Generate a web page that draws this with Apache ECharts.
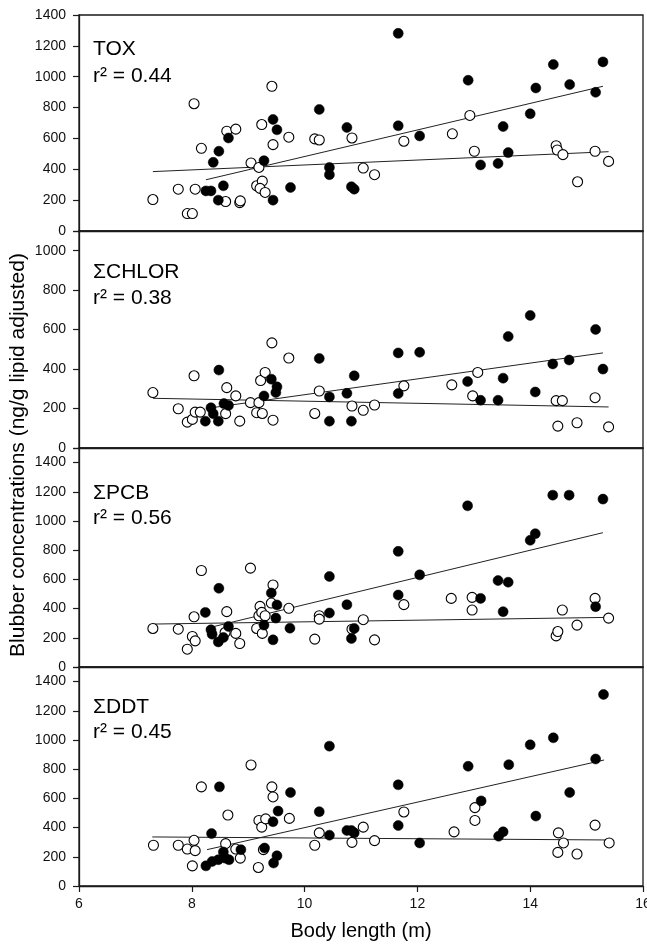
<!DOCTYPE html>
<html>
<head>
<meta charset="utf-8">
<script src="https://cdn.jsdelivr.net/npm/echarts@6/dist/echarts.min.js"></script>
<style>
  html, body { margin: 0; padding: 0; background: #fff; }
  #chart { width: 647px; height: 944px; }
</style>
</head>
<body>
<div id="chart"></div>
<script>
// ---- Data (body length m, concentration ng/g lipid adjusted) ----
const panelNames = ['TOX', '\u03A3CHLOR', '\u03A3PCB', '\u03A3DDT'];
const r2Labels = ['0.44', '0.38', '0.56', '0.45'];
const xTicks = [6, 8, 10, 12, 14, 16];

const toxOpen = [[7.31,204],[7.76,271],[8.04,825],[8.17,536],[7.92,113],[8.01,113],[8.06,271],[8.60,191],[8.62,647],[8.78,660],[8.85,184],[8.86,195],[9.05,441],[9.19,412],[9.15,293],[9.24,690],[9.25,323],[9.21,276],[9.30,250],[9.42,938],[9.44,560],[9.72,608],[10.18,597],[10.26,590],[10.84,603],[11.04,408],[11.24,365],[11.76,582],[12.62,630],[12.93,749],[13.01,517],[14.46,553],[14.48,525],[14.58,495],[14.84,319],[15.15,517],[15.39,451]];
const toxFilled = [[8.25,260],[8.34,260],[8.38,445],[8.48,517],[8.47,200],[8.56,293],[8.65,603],[9.28,456],[9.44,723],[9.51,656],[9.44,200],[9.75,282],[10.26,788],[10.44,412],[10.44,365],[10.75,671],[10.83,287],[10.88,271],[11.66,1281],[11.66,682],[12.04,616],[12.90,977],[13.12,428],[13.43,438],[13.52,677],[13.61,508],[14.00,760],[14.10,927],[14.41,1079],[14.70,949],[15.16,899],[15.29,1096]];
const toxTrendFilled = [[8.25,332],[15.29,938]];
const toxTrendOpen = [[7.31,385],[15.39,514]];

const chlorOpen = [[7.31,281],[7.76,199],[7.92,131],[8.01,145],[8.04,366],[8.06,182],[8.15,182],[8.62,306],[8.78,264],[8.60,174],[8.85,136],[9.04,230],[9.15,179],[9.19,230],[9.22,342],[9.25,175],[9.30,383],[9.42,533],[9.44,141],[9.72,456],[10.18,175],[10.26,289],[10.84,213],[11.04,191],[11.24,218],[11.76,315],[12.61,320],[12.98,264],[13.07,383],[14.46,240],[14.57,240],[14.49,111],[14.83,128],[15.15,255],[15.39,107]];
const chlorFilled = [[8.24,136],[8.34,204],[8.38,174],[8.47,136],[8.48,395],[8.57,225],[8.65,216],[9.28,264],[9.41,349],[9.51,310],[9.49,281],[10.26,454],[10.44,259],[10.44,136],[10.75,277],[10.83,136],[10.88,366],[11.66,482],[11.66,276],[12.04,485],[12.89,337],[13.12,242],[13.43,242],[13.52,354],[13.61,565],[14.00,672],[14.09,284],[14.40,426],[14.69,446],[15.16,601],[15.29,400]];
const chlorTrendFilled = [[8.25,200],[15.29,482]];
const chlorTrendOpen = [[7.31,252],[15.39,208]];

const pcbOpen = [[7.31,264],[7.76,259],[7.92,122],[8.01,209],[8.04,344],[8.06,179],[8.17,661],[8.59,236],[8.62,379],[8.78,230],[8.85,161],[9.04,677],[9.15,264],[9.19,351],[9.21,415],[9.24,374],[9.25,230],[9.30,351],[9.44,562],[9.41,438],[9.72,402],[10.18,191],[10.26,351],[10.26,328],[10.84,259],[11.04,324],[11.24,186],[11.76,427],[12.60,470],[12.97,477],[12.97,390],[14.46,213],[14.49,243],[14.57,390],[14.83,287],[15.15,470],[15.39,335]];
const pcbFilled = [[8.24,374],[8.34,255],[8.36,225],[8.47,172],[8.48,539],[8.56,202],[8.65,278],[9.28,287],[9.41,507],[9.44,186],[9.51,425],[9.49,335],[9.74,266],[10.44,620],[10.44,370],[10.75,427],[10.83,195],[10.88,264],[11.66,792],[11.66,493],[12.04,631],[12.89,1104],[13.12,470],[13.43,592],[13.52,379],[13.61,581],[14.00,868],[14.09,913],[14.40,1177],[14.69,1177],[15.16,413],[15.29,1150]];
const pcbTrendFilled = [[8.25,264],[15.29,920]];
const pcbTrendOpen = [[7.31,294],[15.39,340]];

const ddtOpen = [[7.32,279],[7.76,279],[7.92,253],[8.04,313],[8.06,242],[8.01,138],[8.17,679],[8.60,290],[8.64,486],[8.78,253],[8.86,191],[9.05,829],[9.18,127],[9.19,449],[9.24,403],[9.27,249],[9.31,460],[9.42,679],[9.44,610],[9.73,463],[10.18,279],[10.26,364],[10.84,299],[11.04,403],[11.24,311],[11.76,507],[12.65,371],[13.02,537],[13.02,449],[14.49,230],[14.50,364],[14.59,295],[14.83,219],[15.15,417],[15.40,295]];
const ddtFilled = [[8.25,138],[8.35,359],[8.36,168],[8.47,180],[8.49,679],[8.56,233],[8.59,191],[8.66,180],[8.87,249],[9.29,260],[9.44,440],[9.45,157],[9.51,207],[9.53,513],[9.75,640],[10.26,509],[10.44,348],[10.44,958],[10.75,380],[10.83,380],[10.88,364],[11.66,693],[11.66,414],[12.04,295],[12.90,820],[13.13,583],[13.44,341],[13.52,371],[13.62,831],[14.00,967],[14.10,479],[14.41,1015],[14.70,640],[15.16,870],[15.30,1312]];
const ddtTrendFilled = [[8.27,249],[15.31,863]];
const ddtTrendOpen = [[7.30,336],[15.45,315]];

const openSets = [toxOpen, chlorOpen, pcbOpen, ddtOpen];
const filledSets = [toxFilled, chlorFilled, pcbFilled, ddtFilled];
const trendFilledSets = [toxTrendFilled, chlorTrendFilled, pcbTrendFilled, ddtTrendFilled];
const trendOpenSets = [toxTrendOpen, chlorTrendOpen, pcbTrendOpen, ddtTrendOpen];
const yMaxes = [1400, 1100, 1500, 1500];
const yLabelMax = [1400, 1000, 1400, 1400];

// ---- Layout ----
const FONT = '"Liberation Sans", Arial, Helvetica, sans-serif';
const gridBoxes = [
  { top: 15, height: 216 },
  { top: 231, height: 217 },
  { top: 448, height: 219 },
  { top: 667, height: 219 }
];
const labelPos = [[49, 76], [272, 298], [493, 518], [707, 732]];

const grids = [], xAxes = [], yAxes = [], series = [], graphics = [];
for (let i = 0; i < 4; i++) {
  const last = i === 3;
  grids.push({
    left: 79, width: 564, top: gridBoxes[i].top, height: gridBoxes[i].height,
    containLabel: false, outerBoundsMode: 'none',
    show: true, borderColor: '#1a1a1a', borderWidth: 1.3, backgroundColor: 'transparent'
  });
  xAxes.push({
    type: 'value', gridIndex: i, min: xTicks[0], max: xTicks[xTicks.length - 1], interval: 2,
    axisLine: { show: true, lineStyle: { color: '#1a1a1a', width: 1.3 } },
    axisTick: { show: last, inside: false, length: 6, lineStyle: { color: '#1a1a1a', width: 1.2 } },
    axisLabel: { show: last, margin: 11, fontSize: 14, color: '#111', fontFamily: FONT },
    splitLine: { show: false }
  });
  const lm = yLabelMax[i];
  yAxes.push({
    type: 'value', gridIndex: i, min: 0, max: yMaxes[i], interval: 200,
    axisLine: { show: true, lineStyle: { color: '#1a1a1a', width: 1.3 } },
    axisTick: { show: true, inside: false, length: 6, lineStyle: { color: '#1a1a1a', width: 1.2 } },
    axisLabel: {
      margin: 13, fontSize: 14, color: '#111', fontFamily: FONT,
      formatter: v => (v > lm ? '' : String(v))
    },
    splitLine: { show: false }
  });
  const lineStyle = { color: '#222', width: 1 };
  series.push({
    type: 'line', xAxisIndex: i, yAxisIndex: i, data: trendFilledSets[i],
    symbol: 'none', lineStyle, z: 1, silent: true
  });
  series.push({
    type: 'line', xAxisIndex: i, yAxisIndex: i, data: trendOpenSets[i],
    symbol: 'none', lineStyle, z: 1, silent: true
  });
  series.push({
    type: 'scatter', xAxisIndex: i, yAxisIndex: i, data: openSets[i],
    symbol: 'circle', symbolSize: 10, z: 3,
    itemStyle: { color: '#fff', borderColor: '#000', borderWidth: 1.1, opacity: 1 }
  });
  series.push({
    type: 'scatter', xAxisIndex: i, yAxisIndex: i, data: filledSets[i],
    symbol: 'circle', symbolSize: 10, z: 4,
    itemStyle: { color: '#000', borderColor: '#000', borderWidth: 0.5, opacity: 1 }
  });
  graphics.push({
    type: 'text', x: 93, y: labelPos[i][0], z: 10,
    style: { text: panelNames[i], font: '21px ' + FONT, fill: '#000', align: 'left', verticalAlign: 'middle' }
  });
  graphics.push({
    type: 'text', x: 93, y: labelPos[i][1], z: 10,
    style: { text: 'r\u00B2 = ' + r2Labels[i], font: '21px ' + FONT, fill: '#000', align: 'left', verticalAlign: 'middle' }
  });
}

graphics.push({
  type: 'text', x: 18, y: 455, rotation: Math.PI / 2, z: 10,
  style: { text: 'Blubber concentrations (ng/g lipid adjusted)', font: '21px ' + FONT, fill: '#000', align: 'center', verticalAlign: 'middle' }
});
graphics.push({
  type: 'text', x: 361, y: 931, z: 10,
  style: { text: 'Body length (m)', font: '20px ' + FONT, fill: '#000', align: 'center', verticalAlign: 'middle' }
});

const chart = echarts.init(document.getElementById('chart'), null, { renderer: 'canvas' });
chart.setOption({
  animation: false,
  backgroundColor: '#fff',
  grid: grids,
  xAxis: xAxes,
  yAxis: yAxes,
  series: series,
  graphic: graphics
});
</script>
</body>
</html>
